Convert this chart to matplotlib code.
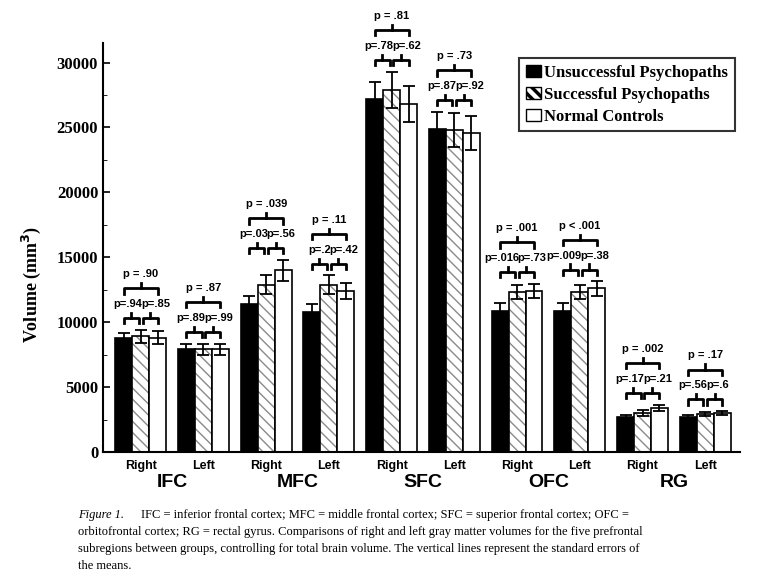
import matplotlib.pyplot as plt
import numpy as np

regions = ['IFC', 'MFC', 'SFC', 'OFC', 'RG']
sides = ['Right', 'Left'] * 5
groups = ['Unsuccessful Psychopaths', 'Successful Psychopaths', 'Normal Controls']

unsuccessful = [8800, 7900, 11400, 10800, 27200, 24900, 10900, 10900, 2700, 2700]
successful = [8900, 7900, 12900, 12900, 27900, 24800, 12300, 12300, 3000, 2900]
controls = [8800, 7900, 14000, 12400, 26800, 24600, 12400, 12600, 3400, 3000]
err_unsucc = [400, 400, 600, 600, 1300, 1300, 550, 550, 150, 150]
err_succ = [500, 450, 700, 700, 1400, 1300, 550, 550, 250, 150]
err_ctrl = [500, 400, 800, 600, 1400, 1300, 550, 550, 250, 150]

p_us = ['p=.94', 'p=.89', 'p=.03', 'p=.2', 'p=.78', 'p=.87', 'p=.016', 'p=.009', 'p=.17', 'p=.56']
p_sn = ['p=.85', 'p=.99', 'p=.56', 'p=.42', 'p=.62', 'p=.92', 'p=.73', 'p=.38', 'p=.21', 'p=.6']
p_all = ['p = .90', 'p = .87', 'p = .039', 'p = .11', 'p = .81', 'p = .73',
         'p = .001', 'p < .001', 'p = .002', 'p = .17']

fig = plt.figure(figsize=(7.69, 5.77), dpi=100)
ax = fig.add_axes([0.134, 0.2166, 0.828, 0.783])

x = np.arange(10)
w = 0.27
vals = [unsuccessful, successful, controls]
errs = [err_unsucc, err_succ, err_ctrl]
faces = ['black', 'white', 'white']
for i in range(3):
    xi = x + (i - 1) * w
    if i == 1:
        # hatch drawn in grey, outline drawn separately in black
        ax.bar(xi, vals[i], w, color='white', edgecolor='#8a8a8a', linewidth=0,
               hatch='\\\\\\')
        ax.bar(xi, vals[i], w, fill=False, edgecolor='black', linewidth=1.2,
               yerr=errs[i], error_kw=dict(ecolor='black', elinewidth=1.3, capsize=4, capthick=1.3))
    else:
        ax.bar(xi, vals[i], w, color=faces[i], edgecolor='black', linewidth=1.2,
               yerr=errs[i], error_kw=dict(ecolor='black', elinewidth=1.3, capsize=4, capthick=1.3))

plt.rcParams['hatch.linewidth'] = 2.5

def bracket(x1, x2, y):
    t = 400
    ax.plot([x1, x1, x2, x2], [y - t, y, y, y - t], color='black', lw=2)
    xm = (x1 + x2) / 2
    ax.plot([xm, xm], [y, y + t], color='black', lw=2)


tkw = dict(va='bottom', fontsize=8, fontweight='bold', family='Liberation Sans')
for k in range(10):
    top = max(v[k] + e[k] for v, e in zip(vals, errs))
    yb = top + 900
    bracket(k - w, k - 0.03, yb)
    bracket(k + 0.03, k + w, yb)
    ax.text(k + 0.03, yb + 700, p_us[k], ha='right', **tkw)
    ax.text(k + 0.01, yb + 700, p_sn[k], ha='left', **tkw)
    bracket(k - w, k + w, yb + 2300)
    ax.text(k, yb + 3000, p_all[k], ha='center', **tkw)

ax.set_xlim(-0.6, 9.55)
ax.set_ylim(0, 34800)
ax.set_yticks(range(0, 30001, 5000))
ax.set_yticklabels([str(v) for v in range(0, 30001, 5000)], fontsize=12,
                   fontweight='bold', family='Liberation Serif')
ax.set_yticks(range(0, 30001, 2500), minor=True)
ax.set_xticks(x)
ax.set_xticklabels(sides, fontsize=9, fontweight='bold', family='Liberation Sans')
ax.tick_params(axis='x', length=0, pad=6)
ax.tick_params(axis='y', direction='in', length=5, width=1.2)
ax.tick_params(axis='y', which='minor', direction='in', length=3)
for s in ['top', 'right']:
    ax.spines[s].set_visible(False)
ax.spines['left'].set_bounds(0, 31500)
ax.spines['left'].set_linewidth(1.5)
ax.spines['bottom'].set_linewidth(1.5)
ax.set_ylabel('Volume (mm$^\\mathbf{3}$)', fontsize=13, fontweight='bold',
              family='Liberation Serif', labelpad=2)
ax.yaxis.set_label_coords(-0.095, 0.37)

for j, r in enumerate(regions):
    ax.text(2 * j + 0.5, -1700, r, ha='center', va='top', fontsize=14,
            fontweight='bold', family='Liberation Sans')

from matplotlib.patches import Patch
handles = [Patch(facecolor='black', edgecolor='black'),
           Patch(facecolor='white', edgecolor='black', hatch='\\\\\\'),
           Patch(facecolor='white', edgecolor='black')]
leg = ax.legend(handles, groups, loc='upper right', bbox_to_anchor=(1.005, 0.89), fancybox=False,
                edgecolor='black', handlelength=0.9, handletextpad=0.2,
                borderpad=0.4, labelspacing=0.35,
                prop=dict(family='Liberation Serif', weight='bold', size=12))
leg.get_frame().set_linewidth(1.5)

fig.text(0.101, 0.118, 'Figure 1.', fontsize=9, style='italic', family='Liberation Serif', va='top')
fig.text(0.184, 0.118, 'IFC = inferior frontal cortex; MFC = middle frontal cortex; SFC = superior frontal cortex; OFC =',
         fontsize=9, family='Liberation Serif', va='top')
cap = ('orbitofrontal cortex; RG = rectal gyrus. Comparisons of right and left gray matter volumes for the five prefrontal\n'
       'subregions between groups, controlling for total brain volume. The vertical lines represent the standard errors of\n'
       'the means.')
fig.text(0.101, 0.088, cap, fontsize=9, family='Liberation Serif', va='top', linespacing=1.55)

fig.savefig('out.png', dpi=100)
